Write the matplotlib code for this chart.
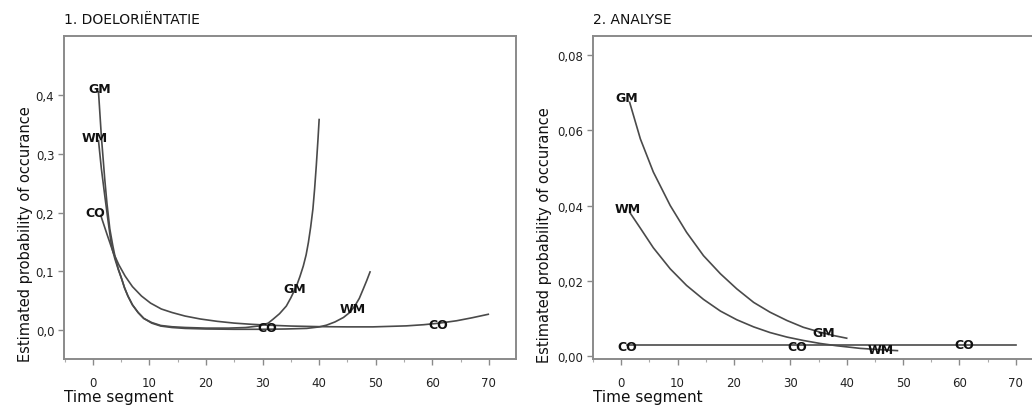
import matplotlib
matplotlib.use("Agg")
import matplotlib.pyplot as plt
from matplotlib.ticker import MultipleLocator, FuncFormatter

# ---------------- data ----------------
# Panel 1: Doeloriëntatie
gm1_x = [1.0, 1.5, 2.1, 2.5, 3.0, 3.5, 3.9, 4.5, 5.1, 5.6, 6.2, 7.0, 8.0, 9.0, 10.4, 12.0, 14.0,
         16.3, 20.0, 24.0, 27.0, 29.5, 31.0, 31.9, 33.0, 34.2, 35.0, 36.0, 36.6, 37.2, 37.7,
         38.1, 38.5, 38.9, 39.2, 39.5, 39.8, 40.0]
gm1_y = [0.405, 0.33, 0.257, 0.215, 0.172, 0.145, 0.126, 0.104, 0.087, 0.072, 0.058, 0.043,
         0.030, 0.020, 0.013, 0.008, 0.0058, 0.0046, 0.0035, 0.0035, 0.0045, 0.0073, 0.012,
         0.019, 0.028, 0.041, 0.055, 0.075, 0.091, 0.109, 0.128, 0.149, 0.175, 0.206, 0.24,
         0.28, 0.325, 0.358]
wm1_x = [1.0, 1.5, 2.1, 2.7, 3.3, 3.9, 4.5, 5.1, 5.6, 6.2, 7.0, 8.0, 9.0, 10.4, 12.0, 14.0,
         16.3, 20.0, 25.0, 30.0, 34.0, 37.8, 40.0, 41.3, 42.8, 44.3, 45.4, 46.3, 47.1, 47.8,
         48.4, 49.0]
wm1_y = [0.322, 0.275, 0.229, 0.185, 0.143, 0.121, 0.103, 0.087, 0.072, 0.058, 0.043, 0.030,
         0.020, 0.012, 0.007, 0.0045, 0.003, 0.002, 0.0015, 0.0015, 0.002, 0.003, 0.0055,
         0.0085, 0.014, 0.0216, 0.030, 0.041, 0.054, 0.070, 0.084, 0.099]
co1_x = [1.4, 2.5, 3.6, 4.6, 5.7, 7.0, 8.6, 10.2, 12.1, 14.0, 16.3, 19.0, 22.0, 25.0, 28.0,
         31.0, 35.0, 40.0, 45.0, 49.5, 55.4, 58.5, 61.3, 64.3, 67.0, 69.9]
co1_y = [0.195, 0.163, 0.132, 0.111, 0.092, 0.074, 0.058, 0.046, 0.036, 0.030, 0.024, 0.019,
         0.015, 0.012, 0.010, 0.0085, 0.007, 0.006, 0.0056, 0.0056, 0.0073, 0.0093, 0.012,
         0.016, 0.021, 0.027]

# Panel 2: Analyse
gm2_x = [1.5, 3.4, 5.7, 8.7, 11.6, 14.6, 17.6, 20.5, 23.5, 26.4, 29.4, 32.3, 35.3, 37.7, 40.0]
gm2_y = [0.0674, 0.0577, 0.0489, 0.0400, 0.0329, 0.0267, 0.0219, 0.0179, 0.0143, 0.0117,
         0.0095, 0.0077, 0.0064, 0.0055, 0.0048]
wm2_x = [1.6, 3.4, 5.7, 8.7, 11.6, 14.6, 17.6, 20.5, 23.5, 26.4, 29.4, 32.3, 35.3, 38.2, 42.4,
         45.5, 49.0]
wm2_y = [0.0380, 0.0340, 0.0288, 0.0232, 0.0188, 0.0151, 0.0120, 0.0097, 0.0078, 0.0063,
         0.0051, 0.0042, 0.0034, 0.0028, 0.0021, 0.0018, 0.0015]
co2_x = [1, 10, 20, 30, 40, 50, 60, 70]
co2_y = [0.003, 0.003, 0.003, 0.003, 0.003, 0.003, 0.003, 0.003]

# curve labels (text, x, y)
labels1 = [("GM", 1.2, 0.41), ("WM", 0.4, 0.327), ("CO", 0.5, 0.20),
           ("GM", 35.7, 0.07), ("WM", 46.0, 0.036), ("CO", 30.8, 0.005), ("CO", 61.0, 0.010)]
labels2 = [("GM", 1.0, 0.0688), ("WM", 1.2, 0.0391), ("CO", 1.0, 0.00265),
           ("GM", 36.0, 0.0064), ("CO", 31.3, 0.00265), ("WM", 46.1, 0.00175), ("CO", 60.9, 0.0031)]

titles = ["1. DOELORIËNTATIE", "2. ANALYSE"]
xlabel = "Time segment"
ylabel = "Estimated probability of occurance"

# ---------------- plotting ----------------
W, H = 1032, 406
fig = plt.figure(figsize=(W / 100, H / 100), dpi=100)
plt.rcParams['font.family'] = ['DejaVu Sans']

line_color = "#4a4a4a"
spine_color = "#8a8a8a"


def px_axes(l, t, r, b):
    return fig.add_axes([l / W, 1 - b / H, (r - l) / W, (b - t) / H])


ax1 = px_axes(64, 37, 516, 360)
ax2 = px_axes(593, 37, 1044, 360)


def style(ax, ydec):
    for s in ax.spines.values():
        s.set_color(spine_color)
        s.set_linewidth(1.4)
    ax.xaxis.set_major_locator(MultipleLocator(10))
    ax.xaxis.set_minor_locator(MultipleLocator(5))
    ax.tick_params(axis='both', which='major', length=4, width=1.0, color=spine_color,
                   labelsize=8.5, labelcolor="#222222", pad=3)
    ax.tick_params(axis='x', which='major', pad=8)
    ax.tick_params(axis='x', which='minor', length=2.5, width=0.8, color="#aaaaaa")
    ax.xaxis.set_major_formatter(FuncFormatter(lambda v, p: f"{v:.0f}"))
    ax.yaxis.set_major_formatter(FuncFormatter(lambda v, p: f"{v:.{ydec}f}".replace(".", ",")))


# Panel 1
for xs, ys in [(gm1_x, gm1_y), (wm1_x, wm1_y), (co1_x, co1_y)]:
    ax1.plot(xs, ys, color=line_color, lw=1.2, solid_joinstyle='round')
for t, x, y in labels1:
    ax1.text(x, y, t, fontsize=9, fontweight='bold', ha='center', va='center', color="#111111")
ax1.set_xlim(-5.1, 74.8)
ax1.set_ylim(-0.049, 0.5)
ax1.set_yticks([0.0, 0.1, 0.2, 0.3, 0.4])
style(ax1, 1)

# Panel 2
for xs, ys in [(gm2_x, gm2_y), (wm2_x, wm2_y), (co2_x, co2_y)]:
    ax2.plot(xs, ys, color=line_color, lw=1.2, solid_joinstyle='round')
for t, x, y in labels2:
    ax2.text(x, y, t, fontsize=9, fontweight='bold', ha='center', va='center', color="#111111")
ax2.set_xlim(-5.0, 75.0)
ax2.set_ylim(-0.00072, 0.085)
ax2.set_yticks([0.0, 0.02, 0.04, 0.06, 0.08])
style(ax2, 2)

# titles and axis labels
fig.text(64 / W, 1 - 20 / H, titles[0], fontsize=10, ha='left', va='center', color="#111111")
fig.text(593 / W, 1 - 20 / H, titles[1], fontsize=10, ha='left', va='center', color="#111111")
fig.text(64 / W, 1 - 398 / H, xlabel, fontsize=11, ha='left', va='center', color="#111111")
fig.text(593 / W, 1 - 398 / H, xlabel, fontsize=11, ha='left', va='center', color="#111111")
fig.text(26 / W, 1 - 362 / H, ylabel, fontsize=10.5, rotation=90, ha='center', va='bottom', color="#111111")
fig.text(544 / W, 1 - 363 / H, ylabel, fontsize=10.5, rotation=90, ha='center', va='bottom', color="#111111")

fig.savefig("out.png", dpi=100)
